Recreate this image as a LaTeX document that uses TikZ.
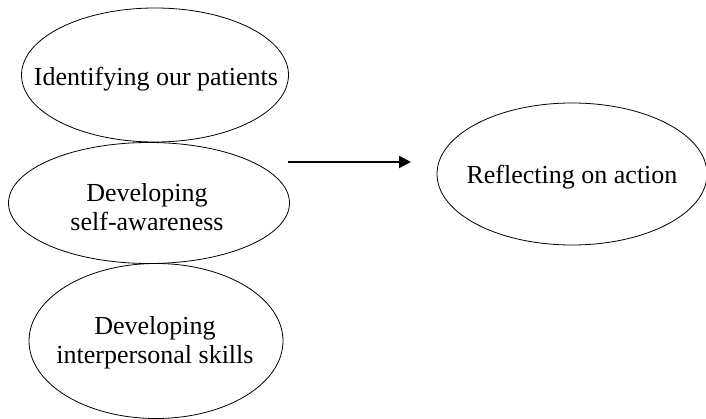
\documentclass[tikz,border=0pt]{standalone}
\usepackage{fontspec}
\setmainfont{Liberation Serif}
\usetikzlibrary{shapes.geometric,arrows.meta}
\tikzset{
  oval/.style={draw=black, line width=0.8pt, ellipse, inner sep=0pt},
  caption/.style={inner sep=0pt, align=center, font=\fontsize{26}{29}\selectfont},
  flow/.style={line width=2pt, -{Triangle[length=12pt,width=12pt]}}
}
\begin{document}
\begin{tikzpicture}[x=1pt,y=-1pt]
\useasboundingbox (0,0) rectangle (706,419);
% the three ovals of the left column
\node[oval, minimum width=267pt, minimum height=134pt] (patients) at (155,75) {};
\node[oval, minimum width=281pt, minimum height=121pt] (aware) at (149,203) {};
\node[oval, minimum width=254pt, minimum height=155pt] (skills) at (156,341) {};
% the oval on the right
\node[oval, minimum width=270pt, minimum height=142pt] (reflect) at (572,174) {};
% texts inside the ovals
\node[caption] (patients-text) at (156,79) {Identifying our patients};
\node[caption] (aware-text) at (147,207) {Developing\\self-awareness};
\node[caption] (skills-text) at (155,343) {Developing\\interpersonal skills};
\node[caption] (reflect-text) at (572,177) {Reflecting on action};
% the arrow between the column and the right oval
\coordinate (from) at (288,162);
\coordinate (to) at (411,162);
\draw[flow] (from) -- (to);
\end{tikzpicture}
\end{document}
